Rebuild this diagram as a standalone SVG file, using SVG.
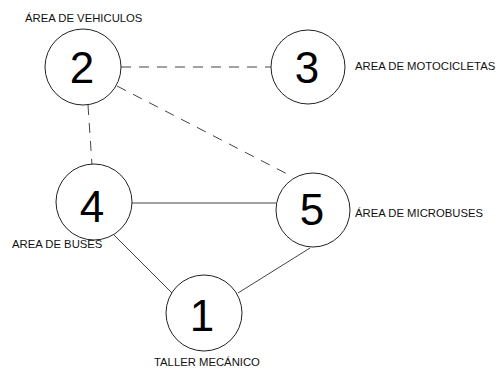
<svg xmlns="http://www.w3.org/2000/svg" width="501" height="370" viewBox="0 0 501 370">
<style>
.n{fill:#fff;stroke:#222;stroke-width:1}
.num{font-family:"Liberation Sans",Arial,sans-serif;font-size:44px;fill:#000;text-anchor:middle}
.lbl{font-family:"Liberation Sans",Arial,sans-serif;font-size:11.3px;fill:#111}
.e{stroke:#444;stroke-width:1;fill:none}
.d{stroke-dasharray:10,8}
</style>
<rect width="501" height="370" fill="#fff"/>
<g id="edges">
<line class="e d" x1="121" y1="67" x2="271" y2="67"/>
<line class="e d" x1="88" y1="105" x2="92" y2="165"/>
<line class="e d" x1="117" y1="86" x2="293" y2="177"/>
<line class="e" x1="132" y1="203" x2="276" y2="203"/>
<line class="e" x1="114" y1="235" x2="172" y2="293"/>
<line class="e" x1="310" y1="248" x2="238" y2="293"/>
</g>
<g id="node2"><circle class="n" cx="83" cy="67" r="38"/><text class="num" x="82" y="83">2</text><text class="lbl" x="25" y="22">ÁREA DE VEHICULOS</text></g>
<g id="node3"><circle class="n" cx="308" cy="67" r="37"/><text class="num" x="307" y="83">3</text><text class="lbl" x="355" y="70">AREA DE MOTOCICLETAS</text></g>
<g id="node4"><circle class="n" cx="94" cy="202" r="38"/><text class="num" x="92" y="222">4</text><text class="lbl" x="12" y="248">AREA DE BUSES</text></g>
<g id="node5"><circle class="n" cx="313" cy="210" r="37"/><text class="num" x="312" y="225">5</text><text class="lbl" x="355" y="217">ÁREA DE MICROBUSES</text></g>
<g id="node1"><circle class="n" cx="204" cy="313" r="38"/><text class="num" x="202" y="331">1</text><text class="lbl" x="154" y="366">TALLER MECÁNICO</text></g>
</svg>
